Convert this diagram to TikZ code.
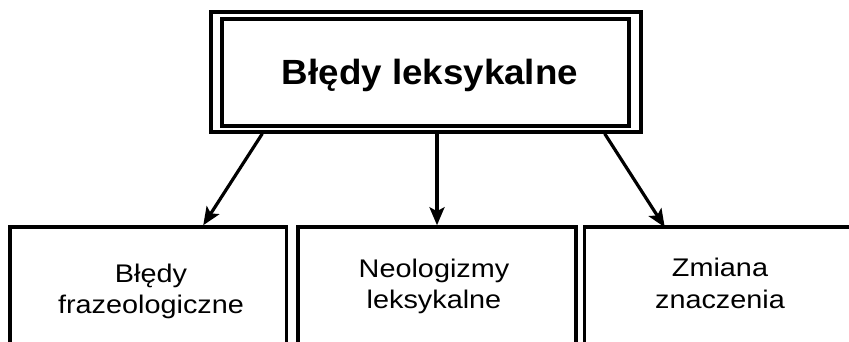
\documentclass[tikz,border=0pt]{standalone}
\usepackage{fontspec}
\setmainfont{Liberation Sans}
\newfontfamily\lblfont[FakeStretch=1.13]{Liberation Sans}
\newfontfamily\ttlfont[FakeStretch=1.05]{Liberation Sans}
\usetikzlibrary{arrows.meta,calc}
\begin{document}
\begin{tikzpicture}[x=1pt,y=-1pt,
  box/.style={draw, line width=3.5pt, inner sep=0pt},
  lbl/.style={anchor=base, inner sep=0pt, font=\lblfont\fontsize{25.5}{30}\selectfont},
  arr/.style={line width=3.2pt, -{Stealth[length=18pt,width=15pt,inset=4pt]}}]
\useasboundingbox (0,0) rectangle (849,341);
\clip (0,0) rectangle (849,341);
\fill[white] (0,0) rectangle (849,341);
% top double box
\node[box, minimum width=430pt, minimum height=120pt] (outer) at (426,72) {};
\node[box, minimum width=407pt, minimum height=107pt] (inner) at (425.5,72.5) {};
\node[anchor=base, inner sep=0pt, font=\ttlfont\bfseries\fontsize{35}{42}\selectfont] (title) at (430,84) {Błędy leksykalne};
% bottom boxes
\node[box, minimum width=276.5pt, minimum height=173pt] (b1) at (148.25,313.5) {};
\node[box, minimum width=278pt, minimum height=173pt] (b2) at (437,313.5) {};
\node[box, minimum width=277pt, minimum height=173pt] (b3) at (723,313.5) {};
% labels
\node[lbl] (b1a) at (151,282) {Błędy};
\node[lbl] (b1b) at (151,313) {frazeologiczne};
\node[lbl] (b2a) at (434,277) {Neologizmy};
\node[lbl] (b2b) at (434,308.5) {leksykalne};
\node[lbl] (b3a) at (720,276.5) {Zmiana};
\node[lbl] (b3b) at (720,308.5) {znaczenia};
% arrows
\draw[arr] ($(outer.south west)+(53,0)$) -- ($(b1.north west)+(195,0)$);
\draw[arr] ($(outer.south)+(11,0)$) -- (b2.north);
\draw[arr] ($(outer.south east)+(-38,0)$) -- ($(b3.north west)+(82,2)$);
\end{tikzpicture}
\end{document}
